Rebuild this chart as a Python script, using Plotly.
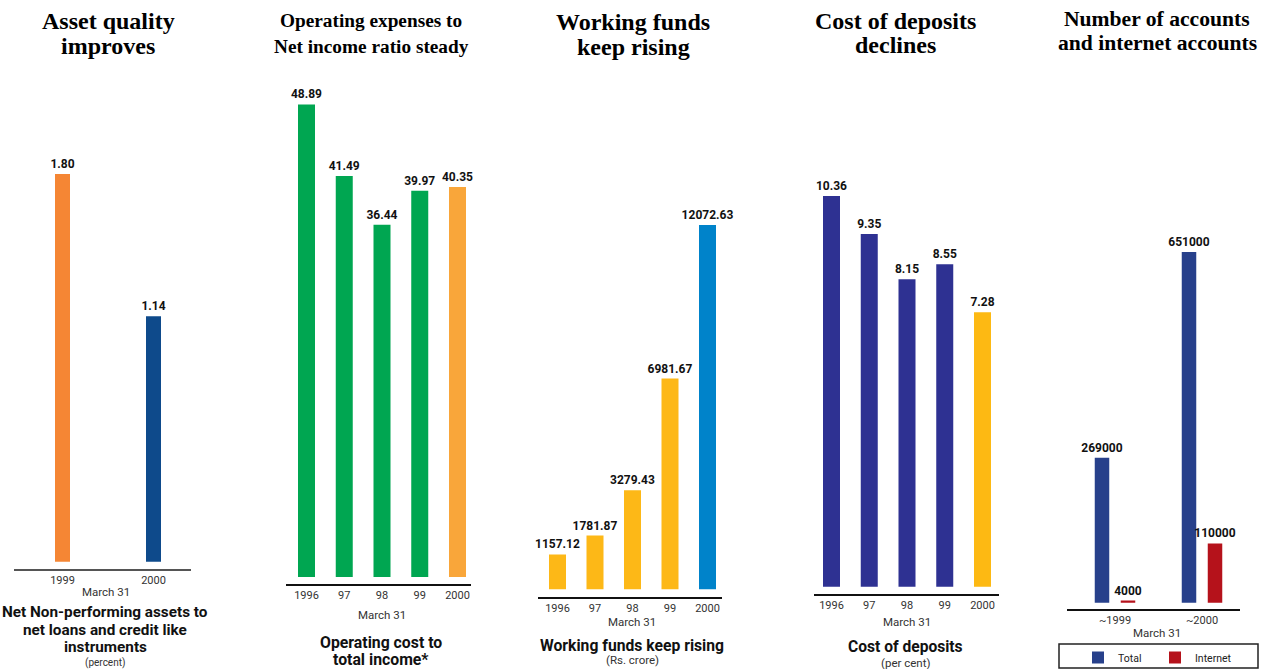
import plotly.graph_objects as go

W, H = 1265, 669

# ---------------- data ----------------
npa_years = ["1999", "2000"]
npa_values = [1.80, 1.14]

opex_years = ["1996", "97", "98", "99", "2000"]
opex_values = [48.89, 41.49, 36.44, 39.97, 40.35]

funds_years = ["1996", "97", "98", "99", "2000"]
funds_values = [1157.12, 1781.87, 3279.43, 6981.67, 12072.63]

deposit_years = ["1996", "97", "98", "99", "2000"]
deposit_values = [10.36, 9.35, 8.15, 8.55, 7.28]

account_years = ["~1999", "~2000"]
account_total = [269000, 651000]
account_internet = [4000, 110000]

# ---------------- styles ----------------
SERIF = "Liberation Serif"
SANS = "Roboto"

npa_colors = ["#F58634", "#0E4A8B"]
opex_colors = ["#00A651", "#00A651", "#00A651", "#00A651", "#F9A63A"]
funds_colors = ["#FDB817", "#FDB817", "#FDB817", "#FDB817", "#0083CA"]
deposit_colors = ["#2E3192", "#2E3192", "#2E3192", "#2E3192", "#FDB913"]
total_color = "#27408B"
internet_color = "#B5121B"

# panel geometry (pixels): axis line x extent, first category centre, spacing,
# bar width, axis line y, zero-baseline y, pixels per unit
panels = [
    dict(xl=14, xr=191, c0=62.5, sp=91, bw=15, axis=569, zero=561.7, scale=215.4,
         line_color="#555555", line_w=2),
    dict(xl=286, xr=471, c0=306.5, sp=37.75, bw=17, axis=584, zero=577.0, scale=9.665,
         line_color="#111111", line_w=1.5),
    dict(xl=538, xr=722, c0=557.5, sp=37.5, bw=17, axis=596.7, zero=589.3, scale=0.030176,
         line_color="#111111", line_w=1.5),
    dict(xl=814, xr=999, c0=831.5, sp=37.75, bw=17, axis=594.3, zero=586.7, scale=37.71,
         line_color="#111111", line_w=1.5),
    dict(xl=1067, xr=1240, c0=1115, sp=87, bw=14.5, axis=609.3, zero=602.7, scale=0.0005387,
         line_color="#111111", line_w=1.5),
]
TOP_PX = 70

fig = go.Figure()

value_font = dict(family=SANS, size=12, color="#111111", weight="bold")


def add_bar(i, cats, vals, colors, fmt, name=None, offset=None, showlegend=False):
    p = panels[i]
    kw = {}
    if offset is not None:
        kw["offset"] = offset
    fig.add_trace(go.Bar(
        x=cats, y=vals, marker=dict(color=colors, line=dict(width=0)),
        width=p["bw"] / p["sp"],
        texttemplate=fmt, textposition="outside", textfont=value_font,
        constraintext="none", cliponaxis=False, name=name, showlegend=showlegend,
        hoverinfo="x+y",
        xaxis="x" if i == 0 else f"x{i+1}",
        yaxis="y" if i == 0 else f"y{i+1}",
        **kw,
    ))


add_bar(0, npa_years, npa_values, npa_colors, "%{y:.2f}")
add_bar(1, opex_years, opex_values, opex_colors, "%{y:.2f}")
add_bar(2, funds_years, funds_values, funds_colors, "%{y:.2f}")
add_bar(3, deposit_years, deposit_values, deposit_colors, "%{y:.2f}")
p5 = panels[4]
add_bar(4, account_years, account_total, total_color, "%{y:d}", name="Total",
        offset=(-13 - p5["bw"] / 2) / p5["sp"], showlegend=True)
add_bar(4, account_years, account_internet, internet_color, "%{y:d}", name="Internet",
        offset=(13 - p5["bw"] / 2) / p5["sp"], showlegend=True)

cat_lists = [npa_years, opex_years, funds_years, deposit_years, account_years]
layout = {}
for i, p in enumerate(panels):
    xs = "xaxis" if i == 0 else f"xaxis{i+1}"
    ys = "yaxis" if i == 0 else f"yaxis{i+1}"
    layout[xs] = dict(
        type="category", categoryorder="array", categoryarray=cat_lists[i],
        domain=[p["xl"] / W, p["xr"] / W],
        range=[-(p["c0"] - p["xl"]) / p["sp"], (p["xr"] - p["c0"]) / p["sp"]],
        anchor="y" if i == 0 else f"y{i+1}",
        showline=True, linecolor=p["line_color"], linewidth=p["line_w"],
        showgrid=False, zeroline=False, ticks="",
        tickfont=dict(family=SANS, size=11, color="#333333"),
        fixedrange=True,
    )
    layout[ys] = dict(
        domain=[1 - p["axis"] / H, 1 - TOP_PX / H],
        range=[-(p["axis"] - p["zero"]) / p["scale"], (p["zero"] - TOP_PX) / p["scale"]],
        anchor="x" if i == 0 else f"x{i+1}",
        visible=False, showgrid=False, zeroline=False, fixedrange=True,
    )

fig.update_layout(
    width=W, height=H, margin=dict(l=0, r=0, t=0, b=0, autoexpand=False),
    paper_bgcolor="white", plot_bgcolor="rgba(0,0,0,0)",
    barmode="group", font=dict(family=SANS, color="#111111"),
    legend=dict(
        orientation="h", x=1078 / W, y=1 - 643 / H, xanchor="left", yanchor="top",
        borderwidth=0, bgcolor="rgba(255,255,255,0)",
        font=dict(family=SANS, size=10.5, color="#222222"),
        entrywidth=32, itemwidth=30,
    ),
    shapes=[dict(
        type="rect", xref="paper", yref="paper",
        x0=1059 / W, x1=1258 / W, y0=1 - 668 / H, y1=1 - 644 / H,
        line=dict(color="#222222", width=1.5), fillcolor="rgba(0,0,0,0)", layer="below",
    )],
    **layout,
)


def txt(x_px, y_px, text, size, family=SANS, bold=False, color="#111111"):
    fig.add_annotation(
        x=x_px / W, y=1 - y_px / H, xref="paper", yref="paper",
        text=text, showarrow=False, xanchor="center", yanchor="middle",
        font=dict(family=family, size=size, color=color,
                  weight="bold" if bold else "normal"),
    )


# titles
titles = [
    (108, ["Asset quality", "improves"], 24, [21, 46]),
    (371, ["Operating expenses to", "Net income ratio steady"], 19.3, [21, 46]),
    (633, ["Working funds", "keep rising"], 24, [22, 47]),
    (895, ["Cost of deposits", "declines"], 24, [21, 45]),
    (1157, ["Number of accounts", "and internet accounts"], 21.6, [19, 43]),
]
for x, lines, size, ys in titles:
    for line, y in zip(lines, ys):
        txt(x, y, line, size, family=SERIF, bold=True, color="#000000")

# "March 31"
for x, y in [(106, 592), (382, 615), (632, 622), (907, 622), (1157, 633)]:
    txt(x, y, "March 31", 11.5, color="#333333")

# subtitles
subs = [
    (105, ["Net Non-performing assets to", "net loans and credit like", "instruments"], [612, 630, 647], 15.3),
    (381, ["Operating cost to", "total income*"], [642, 659], 15.8),
    (632, ["Working funds keep rising"], [645], 15.7),
    (905, ["Cost of deposits"], [647], 15.6),
]
for x, lines, ys, size in subs:
    for line, y in zip(lines, ys):
        txt(x, y, line, size, bold=True, color="#111111")

txt(105, 663, "(percent)", 10, color="#333333")
txt(632, 660, "(Rs. crore)", 11.5, color="#333333")
txt(905, 663, "(per cent)", 11.5, color="#333333")

fig.write_html(
    "out.html",
    config={"displayModeBar": False},
    post_script="document.body.style.margin='0';document.body.style.overflow='hidden';",
)
